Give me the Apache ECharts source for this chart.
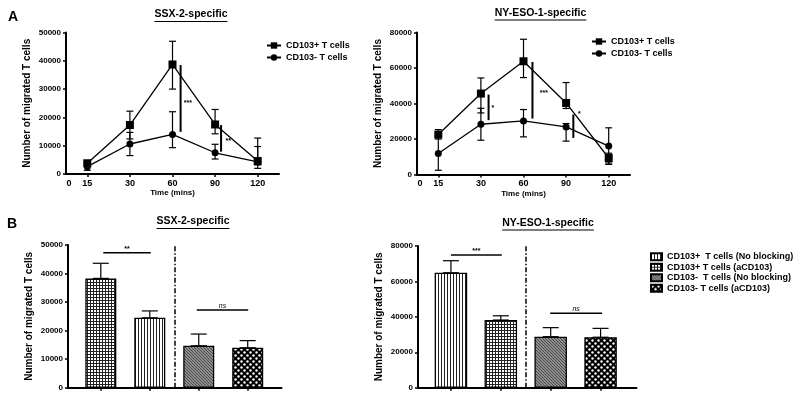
<!DOCTYPE html>
<html><head><meta charset="utf-8">
<script src="https://cdn.jsdelivr.net/npm/echarts@6/dist/echarts.min.js"></script>
<style>html,body{margin:0;padding:0;background:#fff}#c{width:800px;height:400px}</style>
</head><body><div id="c"></div>
<script>
// ---------- data ----------
const timePoints = ['15', '30', '60', '90', '120'];
const timeTickLabels = ['0', '15', '30', '60', '90', '120'];

// SSX-2-specific, line panel
const ssxPlus = [3800, 17300, 38700, 17500, 4600];
const ssxPlusLow = [3000, 12400, 30000, 14200, 2000];
const ssxPlusHigh = [4600, 22200, 46900, 22800, 12700];
const ssxMinus = [2600, 10600, 14000, 7500, 4300];
const ssxMinusLow = [1300, 6500, 9300, 5300, 3200];
const ssxMinusHigh = [4000, 14700, 22000, 10500, 9700];

// NY-ESO-1-specific, line panel
const nyPlus = [22500, 45600, 63800, 40300, 9300];
const nyPlusLow = [20000, 34700, 54600, 37200, 6500];
const nyPlusHigh = [25300, 54400, 76200, 51800, 12000];
const nyMinus = [11800, 28300, 30200, 26800, 16000];
const nyMinusLow = [2400, 19300, 21200, 18800, 5700];
const nyMinusHigh = [21200, 37300, 36600, 28700, 26300];

// bar panels
const barNames = ['CD103+  T cells (No blocking)', 'CD103+ T cells (aCD103)', 'CD103-  T cells (No blocking)', 'CD103- T cells (aCD103)'];
const ssxBars = [38300, 24500, 14700, 14000];
const ssxBarsErr = [43600, 26900, 18800, 16500];
const nyBars = [64900, 38200, 28800, 28500];
const nyBarsErr = [71700, 40600, 33900, 33500];

// significance annotations
const sigTL = [['***', 3.19, 38500, 14900, 3.36, 24900], ['**', 4.14, 17300, 7900, 4.31, 11600]];
const sigTR = [['*', 2.18, 45000, 30600, 2.28, 37300], ['***', 3.21, 63400, 31500, 3.48, 45600], ['*', 4.17, 33800, 20600, 4.31, 33900]];
const sigBL = [['**', 1.05, 2.02, 47300], ['ns', 2.96, 4.01, 27200]];
const sigBR = [['***', 1.0, 2.02, 74900], ['ns', 2.99, 4.03, 42000]];

// ---------- patterns ----------
function pat(w, h, draw) { const c = document.createElement('canvas'); c.width = w; c.height = h; const x = c.getContext('2d'); draw(x); return { image: c, repeat: 'repeat' }; }
const gridPat = pat(3, 3, x => { x.fillStyle = '#fff'; x.fillRect(0, 0, 3, 3); x.fillStyle = '#222'; x.fillRect(0, 0, 3, 1); x.fillRect(0, 0, 1, 3); });
const vertPat = pat(3, 1, x => { x.fillStyle = '#fff'; x.fillRect(0, 0, 3, 1); x.fillStyle = '#222'; x.fillRect(0, 0, 1, 1); });
const grayPat = pat(3, 3, x => { x.fillStyle = '#8e8e8e'; x.fillRect(0, 0, 3, 3); x.fillStyle = '#4a4a4a'; x.fillRect(0, 0, 1, 1); x.fillRect(1, 1, 1, 1); x.fillRect(2, 2, 1, 1); });
const dotPat = pat(6, 6, x => { x.fillStyle = '#000'; x.fillRect(0, 0, 6, 6); x.fillStyle = '#fff'; x.beginPath(); x.arc(1.5, 1.5, 1.2, 0, 7); x.fill(); x.beginPath(); x.arc(4.5, 4.5, 1.2, 0, 7); x.fill(); });
const nyPats = [vertPat, gridPat, grayPat, dotPat];
const ssxPats = [gridPat, vertPat, grayPat, dotPat];

// ---------- helpers ----------
const FONT = '"Liberation Sans", Arial, sans-serif';
const pts = arr => arr.map((v, i) => [i + 1, v]);
const errs = (lo, hi) => lo.map((v, i) => [i + 1, v, hi[i]]);

function errSeries(xi, yi, data, capHalf) {
  return {
    type: 'custom', xAxisIndex: xi, yAxisIndex: yi, data: data, z: 3, silent: true,
    renderItem: (p, api) => {
      const x = api.value(0), a = api.coord([x, api.value(1)]), b = api.coord([x, api.value(2)]);
      const st = { stroke: '#000', lineWidth: 1.2 };
      return { type: 'group', children: [
        { type: 'line', shape: { x1: a[0], y1: a[1], x2: b[0], y2: b[1] }, style: st },
        { type: 'line', shape: { x1: a[0] - capHalf, y1: a[1], x2: a[0] + capHalf, y2: a[1] }, style: st },
        { type: 'line', shape: { x1: b[0] - capHalf, y1: b[1], x2: b[0] + capHalf, y2: b[1] }, style: st }
      ] };
    }
  };
}
function vSig(xi, yi, data) {
  return {
    type: 'custom', xAxisIndex: xi, yAxisIndex: yi, data: data.map(d => [d[1], d[2], d[3], d[4], d[5]]), silent: true, z: 4,
    renderItem: (p, api) => {
      const d = data[p.dataIndex];
      const a = api.coord([d[1], d[2]]), b = api.coord([d[1], d[3]]), t = api.coord([d[4], d[5]]);
      return { type: 'group', children: [
        { type: 'line', shape: { x1: a[0], y1: a[1], x2: b[0], y2: b[1] }, style: { stroke: '#000', lineWidth: 2 } },
        { type: 'text', style: { x: t[0], y: t[1], text: d[0], font: 'bold 7px ' + FONT, fill: '#000', textAlign: 'center', textVerticalAlign: 'middle' } }
      ] };
    }
  };
}
function hSig(xi, yi, data) {
  return {
    type: 'custom', xAxisIndex: xi, yAxisIndex: yi, data: data.map(d => [d[1], d[2], d[3]]), silent: true, z: 4,
    renderItem: (p, api) => {
      const d = data[p.dataIndex];
      const a = api.coord([d[1], d[3]]), b = api.coord([d[2], d[3]]);
      const it = d[0] === 'ns' ? 'italic ' : 'bold ';
      return { type: 'group', children: [
        { type: 'line', shape: { x1: a[0], y1: a[1], x2: b[0], y2: b[1] }, style: { stroke: '#000', lineWidth: 1.6 } },
        { type: 'text', style: { x: (a[0] + b[0]) / 2, y: a[1] - 4, text: d[0], font: it + '7px ' + FONT, fill: '#000', textAlign: 'center', textVerticalAlign: 'middle' } }
      ] };
    }
  };
}

const axisLine = { show: true, lineStyle: { color: '#000', width: 2 } };
function yAx(gi, max, interval, name) {
  return {
    type: 'value', gridIndex: gi, min: 0, max: max, interval: interval,
    axisLine: axisLine, axisTick: { show: true, length: 3, lineStyle: { color: '#000', width: 1.5 } },
    axisLabel: { color: '#000', fontWeight: 'bold', fontSize: 8, fontFamily: FONT, margin: 5, formatter: v => String(v) },
    splitLine: { show: false },
    name: name, nameLocation: 'middle', nameGap: 34, nameRotate: 90,
    nameTextStyle: { color: '#000', fontWeight: 'bold', fontSize: 10, fontFamily: FONT }
  };
}
function xTime(gi) {
  return {
    type: 'value', gridIndex: gi, min: 0.5, max: 5.5,
    axisLine: axisLine,
    axisTick: { show: true, length: 3, customValues: [1, 2, 3, 4, 5], lineStyle: { color: '#000', width: 1.5 } },
    axisLabel: { color: '#000', fontWeight: 'bold', fontSize: 9, fontFamily: FONT, margin: 5, customValues: [0.57, 1, 2, 3, 4, 5],
      formatter: v => v < 0.9 ? timeTickLabels[0] : timeTickLabels[Math.round(v)] },
    splitLine: { show: false },
    name: 'Time (mins)', nameLocation: 'middle', nameGap: 13,
    nameTextStyle: { color: '#000', fontWeight: 'bold', fontSize: 8, fontFamily: FONT }
  };
}
function xBar(gi, min, max) {
  return {
    type: 'value', gridIndex: gi, min: min, max: max,
    axisLine: axisLine,
    axisTick: { show: true, length: 3, customValues: [1, 2, 3, 4], lineStyle: { color: '#000', width: 1.5 } },
    axisLabel: { show: false }, splitLine: { show: false }
  };
}
function lineSeries(name, xi, data, symbol, size) {
  return { type: 'line', name: name, xAxisIndex: xi, yAxisIndex: xi, data: pts(data), symbol: symbol, symbolSize: size,
    itemStyle: { color: '#000' }, lineStyle: { color: '#000', width: 1.3 }, z: 5, animation: false };
}
function barSeries(names, gi, vals, pats, width, stack) {
  return vals.map((v, i) => ({
    type: 'bar', name: names[i], xAxisIndex: gi, yAxisIndex: gi, stack: stack, barWidth: width,
    data: [[i + 1, v]], itemStyle: { color: pats[i], borderColor: '#000', borderWidth: 1.3 }, animation: false,
    markLine: i === 0 ? { silent: true, symbol: 'none', label: { show: false },
      lineStyle: { color: '#000', width: 1.5, type: [5, 2, 1.5, 2] }, data: [{ xAxis: 2.5 }] } : undefined
  }));
}

const titles = [
  { text: 'SSX-2-specific', cx: 191, top: 9 },
  { text: 'NY-ESO-1-specific', cx: 540.5, top: 7.5 },
  { text: 'SSX-2-specific', cx: 193, top: 216 },
  { text: 'NY-ESO-1-specific', cx: 548, top: 217.5 }
];
const TFONT = 'bold 10.5px ' + FONT;
const mctx = document.createElement('canvas').getContext('2d');
mctx.font = TFONT;
const legText = { color: '#000', fontWeight: 'bold', fontSize: 9, fontFamily: FONT };

const option = {
  backgroundColor: '#fff',
  animation: false,
  title: titles.map(t => ({ text: t.text, left: t.cx, top: t.top, textAlign: 'center', padding: 0,
    textStyle: { color: '#000', fontWeight: 'bold', fontSize: 10.5, fontFamily: FONT } })),
  graphic: [
    { type: 'text', x: 8, y: 10, style: { text: 'A', font: 'bold 14px ' + FONT, fill: '#000' } },
    { type: 'text', x: 7, y: 217, style: { text: 'B', font: 'bold 14px ' + FONT, fill: '#000' } }
  ].concat(titles.map(t => {
    const w = mctx.measureText(t.text).width;
    return { type: 'line', shape: { x1: t.cx - w / 2, y1: t.top + 12.5, x2: t.cx + w / 2, y2: t.top + 12.5 }, style: { stroke: '#000', lineWidth: 1 } };
  })),
  legend: [
    { data: ['CD103+ T cells', 'CD103- T cells'], orient: 'vertical', left: 266, top: 41, padding: 0, itemWidth: 14, itemHeight: 8, itemGap: 3,
      textStyle: legText },
    { data: ['CD103+ T cells', 'CD103- T cells'], orient: 'vertical', left: 591, top: 37, padding: 0, itemWidth: 14, itemHeight: 8, itemGap: 3,
      textStyle: legText },
    { data: barNames, orient: 'vertical', left: 650, top: 252, padding: 0, icon: 'rect', itemWidth: 11, itemHeight: 7, itemGap: 1, selectedMode: false,
      textStyle: Object.assign({ lineHeight: 9.5 }, legText) }
  ],
  grid: [
    { left: 66, top: 32.5, width: 213, height: 141.5 },
    { left: 417, top: 32.5, width: 213, height: 142 },
    { left: 68, top: 245, width: 213.5, height: 142.7 },
    { left: 418, top: 246, width: 218.5, height: 141.7 }
  ],
  xAxis: [xTime(0), xTime(1), xBar(2, 0.33, 4.69), xBar(3, 0.34, 4.72)],
  yAxis: [
    yAx(0, 50000, 10000, 'Number of migrated T cells'),
    yAx(1, 80000, 20000, 'Number of migrated T cells'),
    yAx(2, 50000, 10000, 'Number of migrated T cells'),
    yAx(3, 80000, 20000, 'Number of migrated T cells')
  ],
  series: [
    lineSeries('CD103+ T cells', 0, ssxPlus, 'rect', 8),
    lineSeries('CD103- T cells', 0, ssxMinus, 'circle', 7),
    errSeries(0, 0, errs(ssxPlusLow, ssxPlusHigh), 3.5),
    errSeries(0, 0, errs(ssxMinusLow, ssxMinusHigh), 3.5),
    vSig(0, 0, sigTL),
    lineSeries('CD103+ T cells', 1, nyPlus, 'rect', 8),
    lineSeries('CD103- T cells', 1, nyMinus, 'circle', 7),
    errSeries(1, 1, errs(nyPlusLow, nyPlusHigh), 3.5),
    errSeries(1, 1, errs(nyMinusLow, nyMinusHigh), 3.5),
    vSig(1, 1, sigTR)
  ]
    .concat(barSeries(barNames, 3, nyBars, nyPats, 32.5, 'ny'))
    .concat(barSeries(barNames.map(n => 'SSX ' + n), 2, ssxBars, ssxPats, 31, 'ssx'))
    .concat([
      errSeries(2, 2, ssxBars.map((v, i) => [i + 1, v, ssxBarsErr[i]]), 8),
      errSeries(3, 3, nyBars.map((v, i) => [i + 1, v, nyBarsErr[i]]), 8),
      hSig(2, 2, sigBL),
      hSig(3, 3, sigBR)
    ])
};
const chart = echarts.init(document.getElementById('c'), null, { renderer: 'canvas' });
chart.setOption(option);
</script></body></html>
